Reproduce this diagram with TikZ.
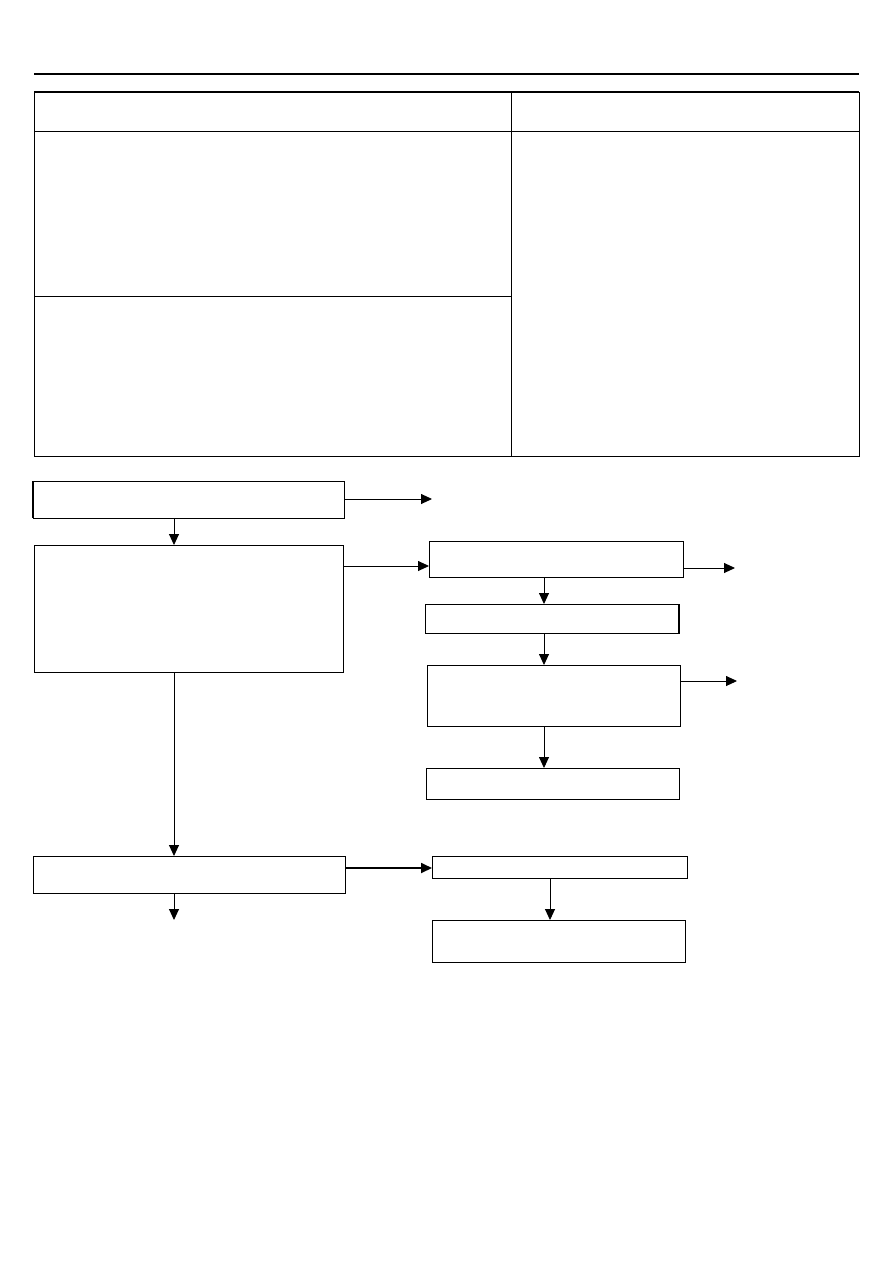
\documentclass[tikz,border=0pt]{standalone}
\usetikzlibrary{arrows.meta}
\begin{document}
\begin{tikzpicture}[x=1pt,y=-1pt,
  box/.style={draw,line width=0.9pt,anchor=north west,inner sep=0pt,outer sep=0pt},
  conn/.style={line width=0.9pt,-{Triangle[length=11pt,width=10pt]}},
  thickconn/.style={line width=1.8pt,-{Triangle[length=11pt,width=10pt]}}]
\useasboundingbox (0,0) rectangle (893,1263);
% top rule
\draw[line width=2.2pt] (34,74) -- (859,74);
% table
\draw[line width=0.9pt] (34,92) rectangle (859,456);
\draw[line width=2pt] (34,92) -- (859,92);
\draw[line width=0.9pt] (34,131) -- (859,131);
\draw[line width=0.9pt] (511,92) -- (511,456);
\draw[line width=0.9pt] (34,296) -- (511,296);
% boxes
\node[box,minimum width=311pt,minimum height=37pt] (A) at (33,481) {};
\draw[line width=2pt] (A.north west) -- (A.south west);
\node[box,minimum width=309pt,minimum height=127pt] (B) at (34,545) {};
\node[box,minimum width=254pt,minimum height=36pt] (C) at (429,541) {};
\node[box,minimum width=254pt,minimum height=29pt] (D) at (425,604) {};
\draw[line width=2pt] (D.north east) -- (D.south east);
\node[box,minimum width=253pt,minimum height=61pt] (E) at (427,665) {};
\node[box,minimum width=253pt,minimum height=31pt] (F) at (426,768) {};
\node[box,minimum width=312pt,minimum height=37pt] (G) at (33,856) {};
\node[box,minimum width=255pt,minimum height=22pt] (H) at (432,856) {};
\node[box,minimum width=253pt,minimum height=42pt] (I) at (432,920) {};
% free ends
\coordinate (aout) at (432,499);
\coordinate (cout) at (735,568);
\coordinate (eout) at (737,681);
\coordinate (gout) at (174,920);
% connectors
\draw[conn] (A.east |- aout) -- (aout);
\draw[conn] (174,518) -- (174,545);
\draw[conn] (343,566) -- (C.west |- 0,566);
\draw[conn] (683,568) -- (cout);
\draw[conn] (544,577) -- (544,604);
\draw[conn] (544,633) -- (544,665);
\draw[conn] (680,681) -- (eout);
\draw[conn] (544,726) -- (544,768);
\draw[conn] (174,672) -- (174,856);
\draw[thickconn] (345,868) -- (432,868);
\draw[conn] (174,893) -- (gout);
\draw[conn] (550,878) -- (550,920);
\end{tikzpicture}
\end{document}
